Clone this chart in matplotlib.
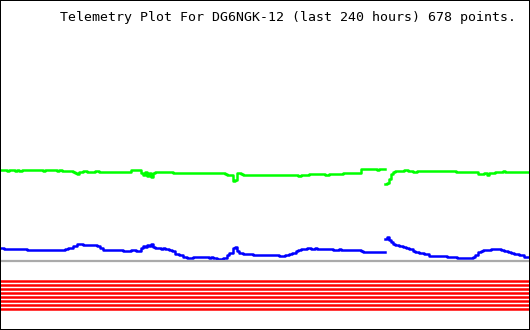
import numpy as np
import matplotlib
matplotlib.use('Agg')
import matplotlib.pyplot as plt

title = "Telemetry Plot For DG6NGK-12 (last 240 hours) 678 points."

# time position (0..530 across the plot) and level readings, NaN = gap in the data
green_t = [0, 7, 9, 15, 17, 19, 22, 43, 45, 57, 59, 62, 73, 75, 77, 79, 83, 87, 95, 99,
           131, 141, 143, 145, 147, 149, 151, 153, 155, 173, 225, 227, 233, 235, 237, 241,
           243, 298, 301, 309, 325, 329, 343, 361, 377, 379, 385, 385, 387, 389, 391, 393,
           395, 404, 408, 413, 417, 456, 478, 484, 487, 489, 495, 503, 505, 529]
green_v = [160.3, 159.3, 160.3, 159.3, 160.3, 159.3, 160.3, 159.3, 160.3, 159.3, 160.3,
           159.3, 158.3, 157.3, 156.3, 158, 159, 158, 159, 158,
           160.3, 157.3, 155.3, 158.3, 154.3, 157.3, 153.3, 157.3, 158.3, 157.3, 156.3,
           155.3, 149.3, 150.3, 157.3, 156.3,
           155.3, 154.3, 155.3, 156.3, 155.3, 156.3, 157.3, 161.3, 160, 161.3, np.nan, 146,
           147.3, 151.3, 156, 158,
           159.3, 160.3, 159.3, 158.3, 159.3, 158.3, 156.3, 157.3, 155.3, 157.3, 158.3,
           159.3, 158.3, 158.3]

blue_t = [0, 4, 27, 65, 68, 73, 77, 83, 93, 97, 100, 103, 123, 131, 136, 141, 143, 145,
          147, 149, 151, 153, 155, 161, 163, 165, 169, 172, 175, 179, 183, 187, 193, 209,
          211, 213, 217, 223, 227, 229, 231, 233, 235, 237, 239, 243, 253, 264, 279, 285,
          289, 292, 296, 298, 301, 307, 311, 315, 317, 333, 339, 341, 361, 363, 385, 385,
          387, 389, 391, 393, 395, 399, 403, 406, 409, 413, 415, 419, 424, 429, 447, 457,
          473, 475, 478, 481, 483, 491, 501, 504, 508, 511, 514, 519, 524, 529]
blue_v = [82, 81, 80, 81, 82.3, 84.3, 86.5, 85.3, 84.7, 84, 82, 80.3, 79.3, 80.3, 79.3,
          82, 84, 83,
          85.3, 84, 86.3, 83.3, 82, 81, 82, 81, 80, 78.7, 76, 74.7, 73.3, 72, 73.3, 72.3,
          73.3, 72, 71.3, 72.3, 75.3, 76.7, 77.3, 82, 83.3, 78.7, 77.3, 76.3, 75.3, 75,
          74, 75,
          76, 77.3, 78.7, 80, 81, 82, 81, 82, 81, 80, 81, 80, 79, 78, np.nan, 91,
          93, 90, 88.3, 86.3, 85, 84, 83, 82, 80.7, 79.3, 78.3, 77.3, 76, 74.3, 73.3, 72.3,
          73.3, 75, 77.7, 79.3, 80.3, 81.3, 80.3, 79.3, 78, 77, 75.7, 74.7, 73.3, 73.3]

baseline_level = 69.5
# eight status channels, all constant over the period
red_levels = [49, 45, 41, 37, 33, 29, 25, 21]

fig = plt.figure(figsize=(5.3, 3.3), dpi=100)
ax = fig.add_axes([0, 0, 1, 1])
ax.set_xlim(0, 530)
ax.set_ylim(0, 330)

ax.plot(green_t, green_v, color='#00ff00', lw=1.8, drawstyle='steps-post')
ax.plot(blue_t, blue_v, color='#0000ff', lw=1.8, drawstyle='steps-post')
ax.axhline(baseline_level, color='#aaaaaa', lw=1.6)
for lvl in red_levels:
    ax.axhline(lvl, color='#ff0000', lw=1.8)

ax.set_xticks([])
ax.set_yticks([])
for s in ax.spines.values():
    s.set_linewidth(1.44)
    s.set_color('black')

fig.text(60 / 530, 1 - 21 / 330, title, fontsize=9.5, family='DejaVu Sans Mono',
         ha='left', va='baseline', color='black')

fig.savefig('out.png', dpi=100, facecolor='white')
